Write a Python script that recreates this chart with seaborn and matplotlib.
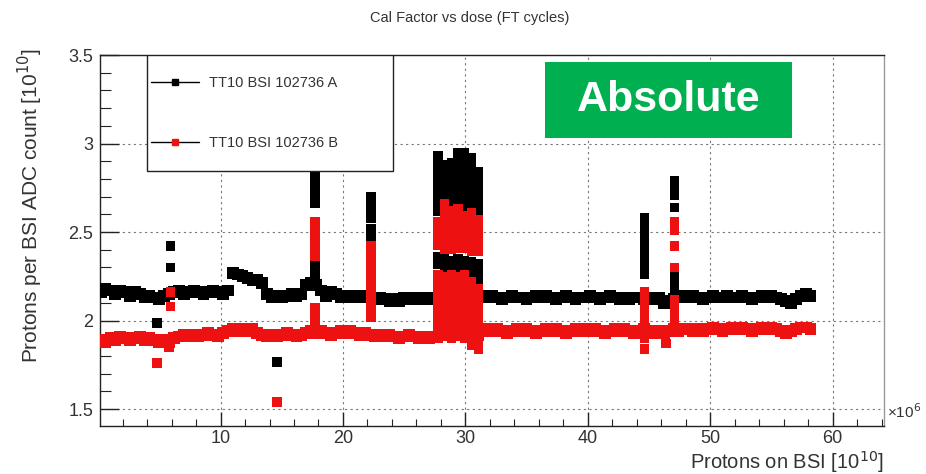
import numpy as np
import pandas as pd
import matplotlib
matplotlib.use("Agg")
import matplotlib.pyplot as plt
from matplotlib.lines import Line2D
from matplotlib.patches import Rectangle
from matplotlib.ticker import MultipleLocator
import seaborn as sns

# ---------------- data (dose in units of 1e6 x 1e10 protons) ----------------
dose = [0.2, 0.6, 1.0, 1.4, 1.8, 2.2, 2.6, 3.0, 3.4, 3.8,
        4.2, 4.6, 5.0, 5.4, 5.8, 6.2, 6.6, 7.0, 7.4, 7.8,
        8.2, 8.6, 9.0, 9.4, 9.8, 10.2, 10.6, 11.0, 11.4, 11.8,
        12.2, 12.6, 13.0, 13.4, 13.8, 14.2, 14.6, 15.0, 15.4, 15.8,
        16.2, 16.6, 17.0, 17.4, 17.8, 18.2, 18.6, 19.0, 19.4, 19.8,
        20.2, 20.6, 21.0, 21.4, 21.8, 22.2, 22.6, 23.0, 23.4, 23.8,
        24.2, 24.6, 25.0, 25.4, 25.8, 26.2, 26.6, 27.0, 27.4, 27.8,
        28.2, 28.6, 29.0, 29.4, 29.8, 30.2, 30.6, 31.0, 31.4, 31.8,
        32.2, 32.6, 33.0, 33.4, 33.8, 34.2, 34.6, 35.0, 35.4, 35.8,
        36.2, 36.6, 37.0, 37.4, 37.8, 38.2, 38.6, 39.0, 39.4, 39.8,
        40.2, 40.6, 41.0, 41.4, 41.8, 42.2, 42.6, 43.0, 43.4, 43.8,
        44.2, 44.6, 45.0, 45.4, 45.8, 46.2, 46.6, 47.0, 47.4, 47.8,
        48.2, 48.6, 49.0, 49.4, 49.8, 50.2, 50.6, 51.0, 51.4, 51.8,
        52.2, 52.6, 53.0, 53.4, 53.8, 54.2, 54.6, 55.0, 55.4, 55.8,
        56.2, 56.6, 57.0, 57.4, 57.8, 58.2]

cal_a = [2.16, 2.18, 2.17, 2.15, 2.17, 2.16, 2.14, 2.16, 2.15, 2.13,
         2.14, 2.13, 2.12, 2.14, 2.15, 2.16, 2.17, 2.15, 2.16, 2.17,
         2.16, 2.15, 2.16, 2.17, 2.16, 2.15, 2.17, 2.27, 2.26, 2.25,
         2.24, 2.23, 2.23, 2.21, 2.15, 2.13, 2.14, 2.13, 2.14, 2.15,
         2.14, 2.15, 2.20, 2.21, 2.20, 2.17, 2.14, 2.16, 2.15, 2.13,
         2.14, 2.13, 2.14, 2.13, 2.14, 2.13, 2.12, 2.13, 2.12, 2.11,
         2.12, 2.11, 2.13, 2.12, 2.13, 2.12, 2.13, 2.12, 2.13, 2.13,
         2.13, 2.13, 2.13, 2.13, 2.13, 2.13, 2.13, 2.13, 2.14, 2.13,
         2.14, 2.13, 2.12, 2.13, 2.14, 2.13, 2.13, 2.12, 2.13, 2.14,
         2.13, 2.14, 2.13, 2.12, 2.13, 2.14, 2.13, 2.12, 2.13, 2.13,
         2.14, 2.13, 2.12, 2.13, 2.14, 2.13, 2.12, 2.13, 2.12, 2.13,
         2.13, 2.12, 2.13, 2.12, 2.13, 2.10, 2.11, 2.12, 2.13, 2.14,
         2.13, 2.14, 2.13, 2.12, 2.13, 2.14, 2.13, 2.13, 2.14, 2.13,
         2.13, 2.14, 2.13, 2.12, 2.13, 2.14, 2.13, 2.14, 2.13, 2.12,
         2.11, 2.10, 2.12, 2.14, 2.15, 2.14]

cal_b = [1.89, 1.88, 1.90, 1.89, 1.91, 1.90, 1.89, 1.90, 1.91, 1.89,
         1.90, 1.89, 1.88, 1.89, 1.88, 1.90, 1.91, 1.92, 1.91, 1.92,
         1.91, 1.92, 1.93, 1.92, 1.91, 1.93, 1.94, 1.95, 1.94, 1.95,
         1.94, 1.95, 1.93, 1.92, 1.91, 1.92, 1.91, 1.92, 1.93, 1.92,
         1.91, 1.92, 1.93, 1.94, 1.93, 1.94, 1.93, 1.92, 1.93, 1.94,
         1.93, 1.94, 1.93, 1.92, 1.93, 1.92, 1.91, 1.92, 1.91, 1.92,
         1.91, 1.90, 1.91, 1.92, 1.91, 1.90, 1.91, 1.90, 1.91, 1.92,
         1.92, 1.92, 1.92, 1.92, 1.92, 1.92, 1.92, 1.92, 1.94, 1.95,
         1.94, 1.95, 1.94, 1.93, 1.94, 1.95, 1.94, 1.95, 1.94, 1.93,
         1.94, 1.95, 1.94, 1.95, 1.94, 1.93, 1.94, 1.95, 1.94, 1.95,
         1.94, 1.95, 1.94, 1.93, 1.94, 1.95, 1.94, 1.95, 1.94, 1.93,
         1.94, 1.95, 1.94, 1.93, 1.94, 1.93, 1.94, 1.95, 1.94, 1.95,
         1.95, 1.94, 1.95, 1.94, 1.95, 1.96, 1.95, 1.94, 1.95, 1.96,
         1.95, 1.96, 1.95, 1.94, 1.95, 1.96, 1.95, 1.96, 1.95, 1.94,
         1.93, 1.94, 1.95, 1.96, 1.96, 1.95]

# outliers / spikes, series A (black)
spike_a_x = [4.8, 5.9, 5.9, 14.6,
             17.7, 17.7, 17.7, 17.7, 17.7, 17.7, 17.7, 17.7, 17.7, 17.7,
             22.3, 22.3, 22.3, 22.3, 22.3, 22.3,
             44.65, 44.65, 44.65, 44.65, 44.65, 44.65, 44.65, 44.65, 44.65,
             47.1, 47.1, 47.1, 47.1, 47.1, 47.1, 47.1]
spike_a_y = [1.985, 2.42, 2.30, 1.765,
             2.86, 2.82, 2.78, 2.74, 2.70, 2.66, 2.33, 2.29, 2.25, 2.21,
             2.70, 2.66, 2.62, 2.58, 2.52, 2.47,
             2.58, 2.54, 2.50, 2.46, 2.42, 2.38, 2.34, 2.30, 2.26,
             2.79, 2.75, 2.71, 2.64, 2.26, 2.22, 2.18]

# burst of cycles around 27.5 - 31.5, series A
burst_a_x = [27.75] * 10 + [28.3] * 8 + [28.85] * 8 + [29.4] * 10 + \
            [29.95] * 10 + [30.5] * 10 + [31.05] * 10
burst_a_y = [2.93, 2.885, 2.84, 2.795, 2.75, 2.705, 2.66, 2.615, 2.36, 2.32,
             2.88, 2.835, 2.79, 2.745, 2.70, 2.36, 2.32, 2.28,
             2.89, 2.845, 2.80, 2.755, 2.71, 2.665, 2.34, 2.30,
             2.95, 2.905, 2.86, 2.815, 2.77, 2.725, 2.68, 2.35, 2.31, 2.27,
             2.95, 2.905, 2.86, 2.815, 2.77, 2.725, 2.68, 2.635, 2.34, 2.30,
             2.92, 2.875, 2.83, 2.785, 2.74, 2.695, 2.65, 2.33, 2.29, 2.25,
             2.84, 2.795, 2.75, 2.705, 2.66, 2.615, 2.32, 2.28, 2.24, 2.20]

# outliers / spikes, series B (red)
spike_b_x = [4.8, 5.9, 5.9, 5.8, 14.6,
             17.7, 17.7, 17.7, 17.7, 17.7, 17.7, 17.7, 17.7, 17.7,
             22.3, 22.3, 22.3, 22.3, 22.3, 22.3, 22.3, 22.3, 22.3, 22.3, 22.3,
             44.65, 44.65, 44.65, 44.65, 44.65, 44.65, 44.65, 44.65,
             46.4,
             47.1, 47.1, 47.1, 47.1, 47.1, 47.1, 47.1, 47.1, 47.1]
spike_b_y = [1.76, 2.16, 2.08, 1.85, 1.54,
             2.56, 2.52, 2.48, 2.44, 2.40, 2.36, 2.07, 2.03, 1.99,
             2.42, 2.38, 2.34, 2.30, 2.26, 2.22, 2.18, 2.14, 2.10, 2.06, 2.02,
             2.16, 2.12, 2.08, 2.04, 2.00, 1.96, 1.90, 1.84,
             1.87,
             2.56, 2.51, 2.42, 2.30, 2.12, 2.08, 2.04, 2.00, 1.96]

# burst of cycles around 27.5 - 31.5, series B
burst_b_x = [27.75] * 13 + [28.3] * 15 + [28.85] * 15 + [29.4] * 14 + \
            [29.95] * 14 + [30.5] * 15 + [31.05] * 14
burst_b_y = [2.56, 2.515, 2.47, 2.425, 2.26, 2.215, 2.17, 2.125, 2.08, 2.035, 1.99, 1.945, 1.90,
             2.66, 2.615, 2.57, 2.525, 2.48, 2.435, 2.40, 2.25, 2.205, 2.16, 2.115, 2.07, 2.025, 1.98, 1.935,
             2.62, 2.575, 2.53, 2.485, 2.44, 2.40, 2.26, 2.215, 2.17, 2.125, 2.08, 2.035, 1.99, 1.945, 1.90,
             2.63, 2.585, 2.54, 2.495, 2.45, 2.41, 2.25, 2.205, 2.16, 2.115, 2.07, 2.025, 1.98, 1.935,
             2.59, 2.545, 2.50, 2.455, 2.41, 2.26, 2.215, 2.17, 2.125, 2.08, 2.035, 1.99, 1.945, 1.90,
             2.61, 2.565, 2.52, 2.475, 2.43, 2.39, 2.22, 2.175, 2.13, 2.085, 2.04, 1.995, 1.95, 1.905, 1.86,
             2.57, 2.525, 2.48, 2.435, 2.39, 2.18, 2.135, 2.09, 2.045, 2.00, 1.955, 1.91, 1.865, 1.84]

series_labels = ["TT10 BSI 102736 A", "TT10 BSI 102736 B"]
x_ticks = [10, 20, 30, 40, 50, 60]
y_ticks = [1.5, 2.0, 2.5, 3.0, 3.5]
y_tick_labels = ["1.5", "2", "2.5", "3", "3.5"]

# ---------------- build table ----------------
def block(xs, ys, series, kind):
    return pd.DataFrame({"dose": xs, "cal": ys, "series": series, "kind": kind})

df = pd.concat([
    block(dose, cal_a, series_labels[0], "base"),
    block(spike_a_x + burst_a_x, spike_a_y + burst_a_y, series_labels[0], "extra"),
    block(dose, cal_b, series_labels[1], "base"),
    block(spike_b_x + burst_b_x, spike_b_y + burst_b_y, series_labels[1], "extra"),
], ignore_index=True)

# ---------------- plot ----------------
sns.set_theme(style="white")
plt.rcParams["font.family"] = ["Liberation Sans", "DejaVu Sans"]

fig = plt.figure(figsize=(9.26, 4.74), dpi=100)
ax = fig.add_axes([100 / 926, 1 - 426 / 474, 784 / 926, 371 / 474])

red = "#ee1111"
sns.scatterplot(data=df, x="dose", y="cal", hue="series", size="kind",
                sizes={"base": 72, "extra": 46},
                palette={series_labels[0]: "black", series_labels[1]: red},
                marker="s", linewidth=0, legend=False, ax=ax, zorder=3)

ax.set_xlim(0.15, 64.2)
ax.set_ylim(1.404, 3.5)
ax.set_xticks(x_ticks)
ax.set_xticklabels([str(t) for t in x_ticks])
ax.set_yticks(y_ticks)
ax.set_yticklabels(y_tick_labels)
ax.xaxis.set_minor_locator(MultipleLocator(2))
ax.yaxis.set_minor_locator(MultipleLocator(0.1))
ax.tick_params(axis="both", which="both", direction="in", colors="#222222",
               labelsize=13, bottom=True, left=True, top=False, right=False)
ax.tick_params(axis="y", which="major", length=14, width=1, pad=5)
ax.tick_params(axis="y", which="minor", length=8, width=0.8)
ax.tick_params(axis="x", which="major", length=10, width=1, pad=3)
ax.tick_params(axis="x", which="minor", length=5, width=0.8)
for lab in ax.get_xticklabels() + ax.get_yticklabels():
    lab.set_color("#333333")
ax.grid(True, which="major", linestyle=(0, (2, 3)), linewidth=0.8, color="#777777")
ax.set_axisbelow(True)
for side, sp in ax.spines.items():
    sp.set_color("#222222" if side in ("left", "bottom", "top") else "#999999")
    sp.set_linewidth(1.0)
ax.set_xlabel("")
ax.set_ylabel("")

# legend box (drawn separately) and entries
ax.add_patch(Rectangle((47 / 784, (426 - 171) / 371), 246 / 784, 116 / 371,
                       transform=ax.transAxes, facecolor="white",
                       edgecolor="#222222", linewidth=1.0, zorder=5))
handles = [
    Line2D([0], [0], color="black", lw=1, marker="s", markersize=5,
           markerfacecolor="black", markeredgecolor="black"),
    Line2D([0], [0], color="black", lw=1, marker="s", markersize=5,
           markerfacecolor=red, markeredgecolor=red),
]
leg = ax.legend(handles, series_labels, loc="upper left",
                bbox_to_anchor=(51 / 784, (426 - 76) / 371),
                fontsize=10.5, labelspacing=3.15, borderpad=0, handlelength=3.3,
                handletextpad=0.7, frameon=False, borderaxespad=0)
for t in leg.get_texts():
    t.set_color("#333333")
leg.set_zorder(6)

# titles / labels
fig.text(470 / 926, 1 - 18 / 474, "Cal Factor vs dose (FT cycles)", ha="center",
         va="center", fontsize=10.5, color="#333333")
fig.text(30 / 926, 1 - 206 / 474, "Protons per BSI ADC count [10$^{10}$]",
         rotation=90, ha="center", va="center", fontsize=15, color="#333333")
fig.text(884 / 926, 1 - 469 / 474, "Protons on BSI [10$^{10}$]", ha="right",
         va="baseline", fontsize=14.5, color="#333333")
fig.text(887 / 926, 1 - 412 / 474, "\u00d710$^{6}$", ha="left", va="center",
         fontsize=11, color="#333333")

# "Absolute" badge
fig.add_artist(Rectangle((545 / 926, 1 - 138 / 474), 247 / 926, 76 / 474,
                         transform=fig.transFigure, facecolor="#00b050",
                         edgecolor="none", zorder=10))
fig.text(668.5 / 926, 1 - 100 / 474, "Absolute", ha="center", va="center",
         fontsize=31, fontweight="bold", color="white", zorder=11)

fig.savefig("out.png", dpi=100)
